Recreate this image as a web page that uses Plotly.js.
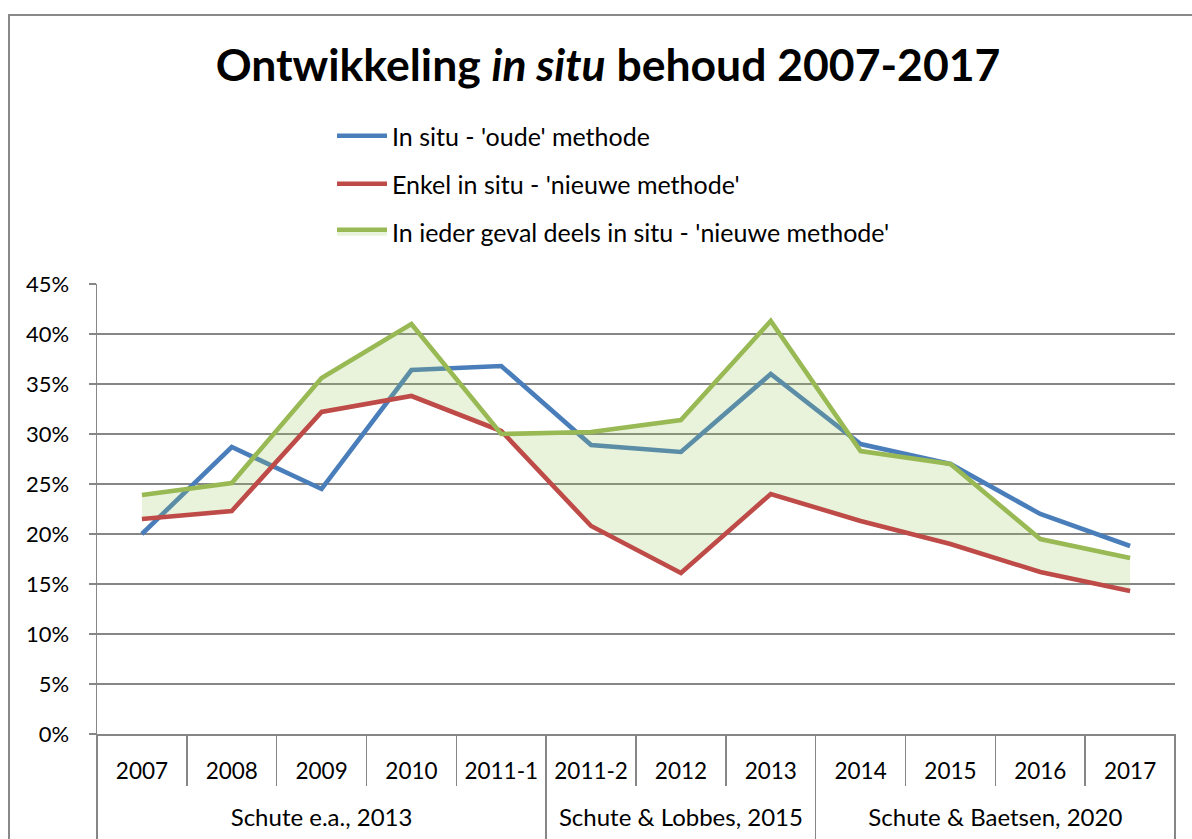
<!DOCTYPE html>
<html>
<head>
<meta charset="utf-8">
<script src="https://cdn.plot.ly/plotly-3.0.1.min.js"></script>
<style>
  html, body { margin: 0; padding: 0; background: #fff; overflow: hidden; }
  #frame { position: absolute; left: 8px; top: 14px; width: 1196px; height: 846px; border: 2px solid #898989; }
  #chart { width: 1196px; height: 846px; }
</style>
</head>
<body>
<div id="frame"><div id="chart"></div></div>
<script>
// ---- data ----
const years = ['2007','2008','2009','2010','2011-1','2011-2','2012','2013','2014','2015','2016','2017'];
const sourceNames = ['Schute e.a., 2013', 'Schute & Lobbes, 2015', 'Schute & Baetsen, 2020'];
const sourceCounts = [5, 3, 4];   // number of years per source
const seriesNames = ["In situ - 'oude' methode", "Enkel in situ - 'nieuwe methode'", "In ieder geval deels in situ - 'nieuwe methode'"];
const oudeMethode = [20.0, 28.7, 24.5, 36.4, 36.8, 28.9, 28.2, 36.0, 29.0, 27.0, 22.0, 18.8];
const enkelInSitu = [21.5, 22.3, 32.2, 33.8, 30.3, 20.8, 16.1, 24.0, 21.3, 19.0, 16.2, 14.3];
const deelsInSitu = [23.9, 25.1, 35.6, 41.0, 30.0, 30.2, 31.4, 41.3, 28.3, 27.0, 19.5, 17.6];
const yTicks = [0, 5, 10, 15, 20, 25, 30, 35, 40, 45];
const yTickLabels = ['0%', '5%', '10%', '15%', '20%', '25%', '30%', '35%', '40%', '45%'];

// group centres / boundaries in category-index units
const groupCenters = [], groupBounds = [-0.5];
let start = 0;
sourceCounts.forEach(n => { groupCenters.push(start + (n - 1) / 2); start += n; groupBounds.push(start - 0.5); });

const FONT = 'Lato, "Open Sans", sans-serif';
const GRID = '#868686';

const traces = [
  { x: years, y: oudeMethode, name: seriesNames[0], type: 'scatter', mode: 'lines',
    line: { color: '#4A7EBB', width: 4.6 }, legendgroup: 'a' },
  { x: years, y: enkelInSitu, name: seriesNames[1], type: 'scatter', mode: 'lines',
    line: { color: '#BE4B48', width: 4.6 }, legendgroup: 'b' },
  { x: years, y: deelsInSitu, name: seriesNames[2], type: 'scatter', mode: 'lines',
    line: { color: '#98B954', width: 4.6 }, fill: 'tonexty', fillcolor: 'rgba(155,200,89,0.22)', legendgroup: 'c' },
  // carrier for the source-group axis (no visible marks)
  { x: groupCenters, y: groupCenters.map(() => null), xaxis: 'x2', type: 'scatter', mode: 'lines',
    showlegend: false, hoverinfo: 'skip' }
];

const PT = 268, PB = 830;
const yDomainBottom = (PB - 718) / (PB - PT);

const layout = {
  width: 1196, height: 846,
  margin: { l: 87, r: 31, t: PT, b: 846 - PB },
  paper_bgcolor: '#fff', plot_bgcolor: '#fff',
  font: { family: FONT, size: 23, color: '#000' },
  title: { text: '<b>Ontwikkeling <i>in situ</i> behoud 2007-2017</b>', font: { family: FONT, size: 44.5, color: '#000' },
           x: 0.5, xanchor: 'center', y: 1 - 49/846, yanchor: 'middle', yref: 'container' },
  showlegend: true,
  legend: { x: 0.218, xanchor: 'left', y: 1 + (PT - 97) / (PB - PT), yanchor: 'top', orientation: 'v',
            font: { family: FONT, size: 25, color: '#000' }, traceorder: 'grouped', tracegroupgap: 12.5,
            bgcolor: 'rgba(0,0,0,0)', itemwidth: 50 },
  xaxis: { type: 'category', range: [-0.5, 11.5], anchor: 'y', showgrid: false, showline: true, linecolor: GRID, linewidth: 1.5,
           ticks: 'outside', tickson: 'boundaries', ticklen: 50, tickcolor: GRID, tickwidth: 1.5,
           ticklabelstandoff: 16, tickfont: { family: FONT, size: 22.5, color: '#000' } },
  xaxis2: { type: 'linear', overlaying: 'x', anchor: 'free', position: 0, side: 'bottom', range: [-0.5, 11.5],
            showgrid: false, showline: false, zeroline: false, ticks: '',
            tickmode: 'array', tickvals: groupCenters, ticktext: sourceNames,
            ticklabelposition: 'inside', ticklabelstandoff: 12,
            minor: { tickmode: 'array', tickvals: groupBounds, ticks: 'inside', ticklen: PB - 718, tickcolor: GRID, tickwidth: 1.5, showgrid: false },
            tickfont: { family: FONT, size: 24, color: '#000' } },
  yaxis: { domain: [yDomainBottom, 1], range: [0, 45], tickmode: 'array', tickvals: yTicks, ticktext: yTickLabels,
           showgrid: true, gridcolor: GRID, gridwidth: 1.5,
           showline: true, linecolor: GRID, linewidth: 1.5, ticks: 'outside', ticklen: 7,
           tickcolor: GRID, tickwidth: 1.5, zeroline: false, fixedrange: true, ticklabelstandoff: 15,
           tickfont: { family: FONT, size: 22, color: '#000' } }
};

Plotly.newPlot('chart', traces, layout, { displayModeBar: false, staticPlot: true });
</script>
</body>
</html>
